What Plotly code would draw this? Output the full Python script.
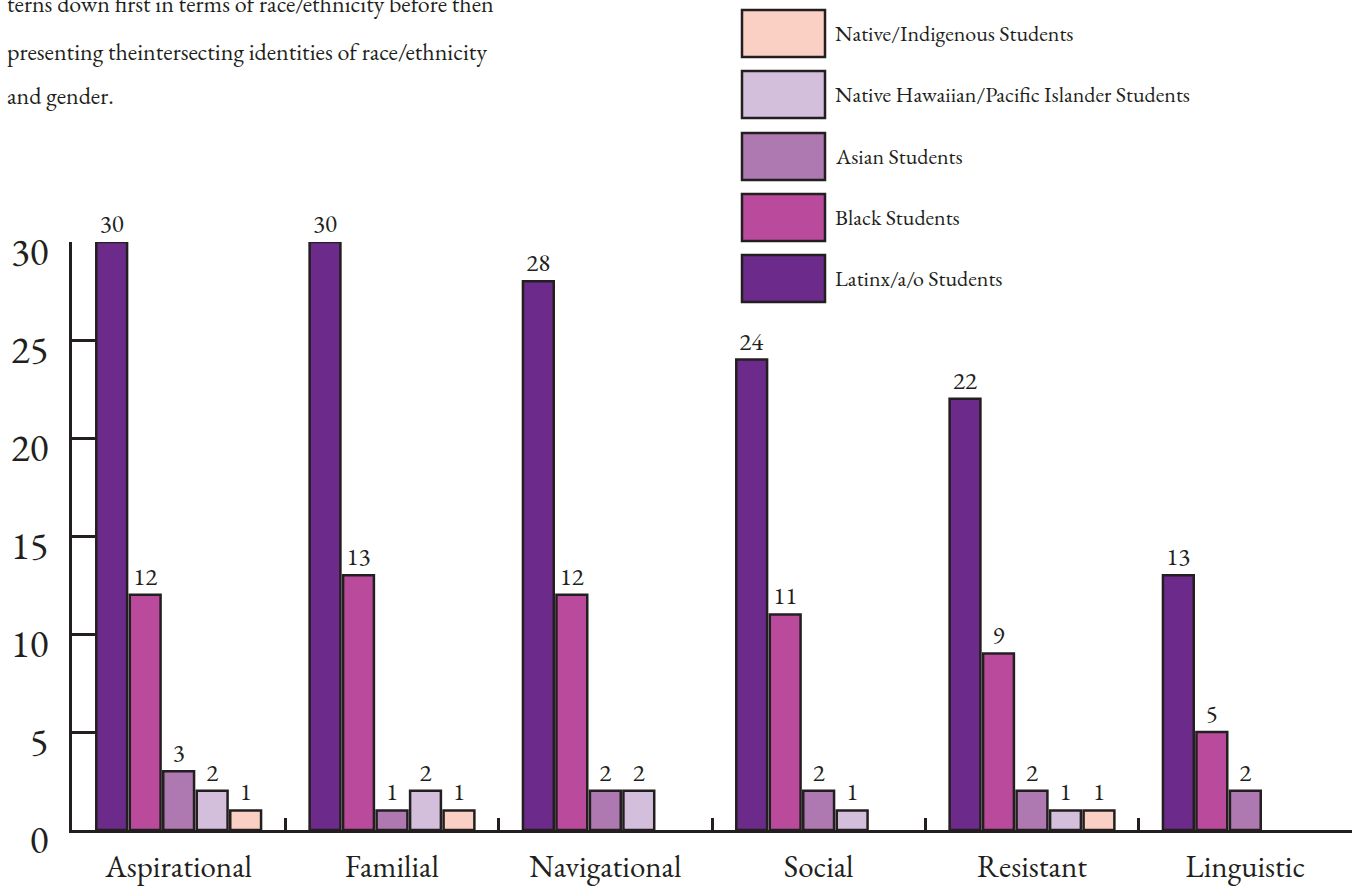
import plotly.graph_objects as go

categories = ["Aspirational", "Familial", "Navigational", "Social", "Resistant", "Linguistic"]
series_names = [
    "Latinx/a/o Students",
    "Black Students",
    "Asian Students",
    "Native Hawaiian/Pacific Islander Students",
    "Native/Indigenous Students",
]
latinx = [30, 30, 28, 24, 22, 13]
black = [12, 13, 12, 11, 9, 5]
asian = [3, 1, 2, 2, 2, 2]
nhpi = [2, 2, 2, 1, 1, None]
native = [1, 1, None, None, 1, None]
series_values = [latinx, black, asian, nhpi, native]
colors = ["#6C2A8A", "#BA4A9C", "#AE78B0", "#D3BEDB", "#FBD0C4"]
y_ticks = [0, 5, 10, 15, 20, 25, 30]
paragraph = [
    "terns down first in terms of race/ethnicity before then",
    "presenting theintersecting identities of race/ethnicity",
    "and gender.",
]

W, H = 1359, 890
L, R, T, B = 72, 7, 242, 60
INK = "#231F20"
FONT = "EB Garamond"

def px_x(px):
    return (px - L) / (W - L - R)

def px_y(py):
    return (H - B - py) / (H - T - B)

fig = go.Figure()
for name, vals, col in zip(series_names, series_values, colors):
    fig.add_trace(go.Bar(
        x=categories, y=vals, name=name,
        marker=dict(color=col, line=dict(color=INK, width=2.5)),
        text=[("" if v is None else str(v)) for v in vals],
        textposition="outside",
        textfont=dict(family=FONT, size=25, color=INK),
        cliponaxis=False,
        showlegend=False,
    ))

shapes = []
annotations = []
# custom legend (top to bottom: reversed series order)
box_tops = [10, 71, 133, 194, 255]
for i, idx in enumerate(reversed(range(len(series_names)))):
    top = box_tops[i]
    bot = top + 47
    shapes.append(dict(type="rect", xref="paper", yref="paper",
                       x0=px_x(742), x1=px_x(825), y0=px_y(bot), y1=px_y(top),
                       fillcolor=colors[idx], line=dict(color=INK, width=2.5)))
    annotations.append(dict(xref="paper", yref="paper", x=px_x(833), y=px_y((top + bot) / 2),
                            xanchor="left", yanchor="middle", showarrow=False,
                            text=series_names[idx],
                            font=dict(family=FONT, size=22, color=INK)))

for line, cy in zip(paragraph, [3, 52, 95]):
    annotations.append(dict(xref="paper", yref="paper", x=px_x(5), y=px_y(cy),
                            xanchor="left", yanchor="middle", showarrow=False,
                            text=line, font=dict(family=FONT, size=24, color=INK)))

fig.update_layout(
    width=W, height=H,
    margin=dict(l=L, r=R, t=T, b=B, pad=0, autoexpand=False),
    paper_bgcolor="white", plot_bgcolor="white",
    barmode="group", bargap=0.215, bargroupgap=0.08,
    shapes=shapes, annotations=annotations,
    font=dict(family=FONT, color=INK),
)
fig.update_xaxes(
    automargin=False,
    showline=True, linecolor=INK, linewidth=2.5,
    ticks="inside", tickson="boundaries", ticklen=12, tickwidth=2.5, tickcolor=INK,
    tickfont=dict(family=FONT, size=31, color=INK),
    ticklabelstandoff=7,
    showgrid=False, zeroline=False,
)
fig.update_yaxes(
    automargin=False,
    range=[0, 30], tickvals=y_ticks, ticktext=[str(v) for v in y_ticks],
    showline=True, linecolor=INK, linewidth=2.5,
    ticks="inside", ticklen=23, tickwidth=2.5, tickcolor=INK,
    tickfont=dict(family=FONT, size=39, color=INK),
    ticklabelstandoff=13, ticklabelshift=9,
    showgrid=False, zeroline=False,
)

fig.write_html("out.html")
